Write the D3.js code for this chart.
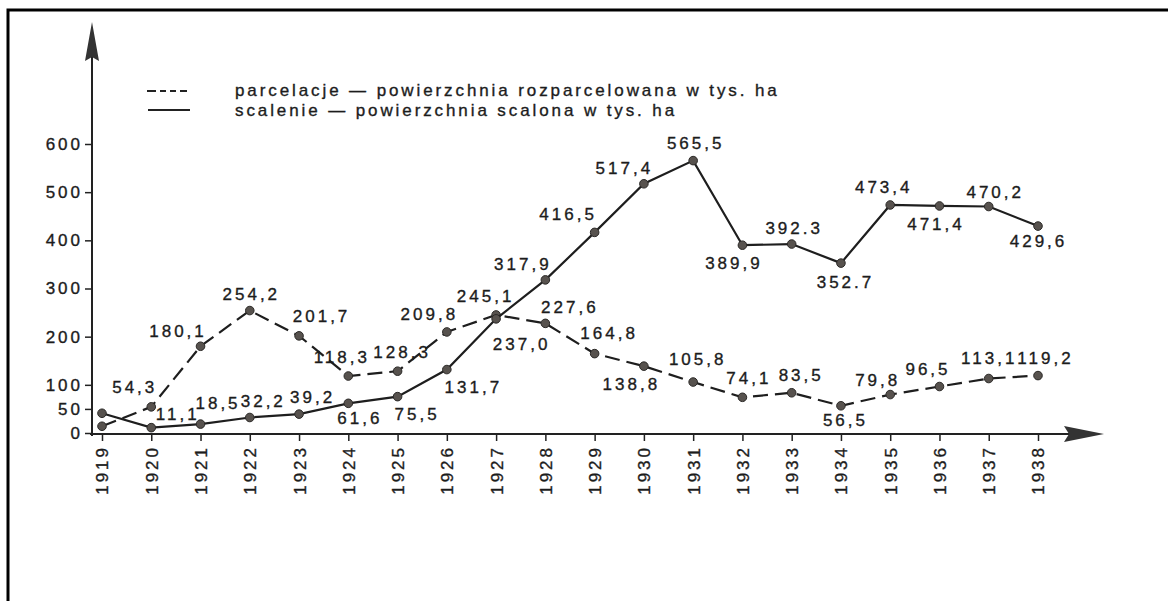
<!DOCTYPE html>
<html>
<head>
<meta charset="utf-8">
<script src="https://cdn.jsdelivr.net/npm/d3@7"></script>
<style>
  body { margin: 0; background: #fff; }
  svg text { font-family: "Liberation Sans", Arial, sans-serif; fill: #1c1c1c; stroke: #1c1c1c; stroke-width: 0.35px; }
</style>
</head>
<body>
<script>

var years = [1919, 1920, 1921, 1922, 1923, 1924, 1925, 1926, 1927, 1928,
             1929, 1930, 1931, 1932, 1933, 1934, 1935, 1936, 1937, 1938];

// parcelacje - powierzchnia rozparcelowana w tys. ha (dashed)
var parcelacje = [14, 54.3, 180.1, 254.2, 201.7, 118.3, 128.3, 209.8, 245.1, 227.6,
                  164.8, 138.8, 105.8, 74.1, 83.5, 56.5, 79.8, 96.5, 113.1, 119.2];

// scalenie - powierzchnia scalona w tys. ha (solid)
var scalenie = [41, 11.1, 18.5, 32.2, 39.2, 61.6, 75.5, 131.7, 237.0, 317.9,
                416.5, 517.4, 565.5, 389.9, 392.3, 352.7, 473.4, 471.4, 470.2, 429.6];

var parcelacjeLabels = ["", "54,3", "180,1", "254,2", "201,7", "118,3", "128,3", "209,8", "245,1", "227,6",
                        "164,8", "138,8", "105,8", "74,1", "83,5", "56,5", "79,8", "96,5", "113,1", "119,2"];

var scalenieLabels = ["", "11,1", "18,5", "32,2", "39,2", "61,6", "75,5", "131,7", "237,0", "317,9",
                      "416,5", "517,4", "565,5", "389,9", "392.3", "352.7", "473,4", "471,4", "470,2", "429,6"];

var yTicks = [0, 50, 100, 200, 300, 400, 500, 600];

var legendTexts = [
  "parcelacje \u2014 powierzchnia rozparcelowana w tys. ha",
  "scalenie \u2014 powierzchnia scalona w tys. ha"
];

// where each value label sits relative to its dot (layout only)
var parcelacjeOffsets = [[0, 0], [-18, -14], [-24, -9], [0, -11], [21, -14], [-8, -13], [3, -13], [-19, -12], [-12, -13], [23, -10],
                         [13, -15], [-14, 24], [3, -17], [5, -13], [8, -12], [3, 20], [-14, -9], [-13, -12], [-1, -15], [6, -12]];
var scalenieOffsets = [[0, 0], [25, -8], [16, -15], [12, -10], [12, -11], [10, 21], [18, 23], [25, 23], [24, 31], [-24, -10],
                       [-28, -12], [-21, -10], [1, -12], [-10, 24], [1, -10], [3, 25], [-8, -12], [-5, 24], [5, -9], [-1, 21]];

function draw_it() {

  var svg = d3.select("body")
    .append("svg")
    .attr("width", 1168)
    .attr("height", 601);

  var x = d3.scaleLinear().domain([1919, 1938]).range([102, 1038]);
  var y = d3.scaleLinear().domain([0, 600]).range([433, 144]);

  // page frame of the scan
  svg.append("path")
    .attr("d", "M8,601 L8,10 L1168,10")
    .attr("fill", "none")
    .attr("stroke", "#000")
    .attr("stroke-width", 3);

  // y axis
  var yAxis = svg.append("g")
    .attr("transform", "translate(92,0)")
    .call(d3.axisLeft(y).tickValues(yTicks).tickSize(7).tickPadding(2));
  yAxis.select(".domain").remove();
  yAxis.selectAll("line").attr("stroke", "#222").attr("stroke-width", 1.5);
  yAxis.selectAll("text")
    .attr("font-size", 17)
    .style("letter-spacing", "3px")
    .style("font-family", "'Liberation Sans', Arial, sans-serif");

  // x axis
  var xAxis = svg.append("g")
    .attr("transform", "translate(0,434)")
    .call(d3.axisBottom(x).tickValues(years).tickFormat(d3.format("d")).tickSize(7));
  xAxis.select(".domain").remove();
  xAxis.selectAll("line").attr("stroke", "#222").attr("stroke-width", 1.5);
  xAxis.selectAll("text")
    .attr("transform", "rotate(-90)")
    .attr("text-anchor", "end")
    .attr("x", -11)
    .attr("y", 0)
    .attr("dy", "0.35em")
    .attr("font-size", 17)
    .style("letter-spacing", "3px")
    .style("font-family", "'Liberation Sans', Arial, sans-serif");

  // axis lines with arrows
  svg.append("line")
    .attr("x1", 92).attr("y1", 436)
    .attr("x2", 92).attr("y2", 55)
    .attr("stroke", "#222")
    .attr("stroke-width", 2);
  svg.append("path")
    .attr("d", "M92,22 L85,61 L92,57 L99,61 Z")
    .attr("fill", "#333");

  svg.append("line")
    .attr("x1", 90).attr("y1", 434)
    .attr("x2", 1070).attr("y2", 434)
    .attr("stroke", "#222")
    .attr("stroke-width", 2);
  svg.append("path")
    .attr("d", "M1104,434 L1064,426 L1069,434 L1064,442 Z")
    .attr("fill", "#333");

  // legend
  var legend = svg.append("g");
  legend.append("line")
    .attr("x1", 147).attr("y1", 91)
    .attr("x2", 190).attr("y2", 91)
    .attr("stroke", "#222")
    .attr("stroke-width", 2)
    .attr("stroke-dasharray", "9,4,6,4,6,4,7");
  legend.append("line")
    .attr("x1", 148).attr("y1", 110)
    .attr("x2", 190).attr("y2", 110)
    .attr("stroke", "#222")
    .attr("stroke-width", 2);
  legend.selectAll("text")
    .data(legendTexts)
    .enter()
    .append("text")
      .attr("x", 235)
      .attr("y", function(d, i) { return 96 + i * 20; })
      .attr("font-size", 17)
      .style("letter-spacing", "2.9px")
      .text(function(d) { return d; });

  place(parcelacje, parcelacjeLabels, parcelacjeOffsets, "15,7");
  place(scalenie, scalenieLabels, scalenieOffsets, null);

  function place(values, labels, offsets, dash) {

    var line = d3.line()
      .x(function(d, i) { return x(years[i]); })
      .y(function(d) { return y(d); });

    var series = svg.append("g");

    series.append("path")
      .datum(values)
      .attr("d", line)
      .attr("fill", "none")
      .attr("stroke", "#1e1e1e")
      .attr("stroke-width", 2.2)
      .attr("stroke-dasharray", dash);

    series.selectAll("circle")
      .data(values)
      .enter()
      .append("circle")
        .attr("cx", function(d, i) { return x(years[i]); })
        .attr("cy", function(d) { return y(d); })
        .attr("r", 4.3)
        .attr("fill", "#57524e")
        .attr("stroke", "#2b2927")
        .attr("stroke-width", 1);

    series.selectAll("text")
      .data(values)
      .enter()
      .append("text")
        .attr("x", function(d, i) { return x(years[i]) + offsets[i][0] + 1.5; })
        .attr("y", function(d, i) { return y(d) + offsets[i][1]; })
        .attr("text-anchor", "middle")
        .attr("font-size", 17)
        .style("letter-spacing", "3px")
        .text(function(d, i) { return labels[i]; });
  }
}

draw_it();

</script>
</body>
</html>
